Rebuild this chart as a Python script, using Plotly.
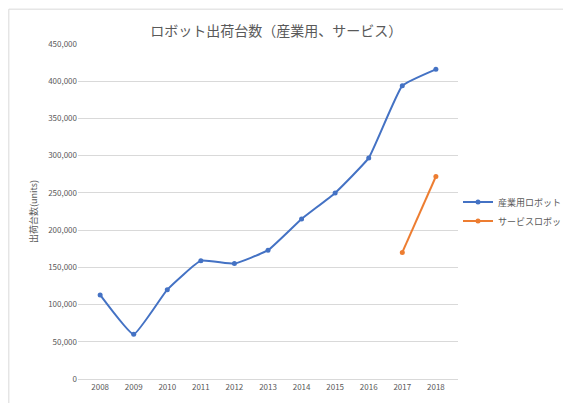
import plotly.graph_objects as go

years = ["2008", "2009", "2010", "2011", "2012", "2013", "2014", "2015", "2016", "2017", "2018"]
industrial = [113000, 60000, 120000, 159000, 155000, 173000, 215000, 250000, 297000, 394000, 416000]
service_years = ["2017", "2018"]
service = [170000, 272000]

fig = go.Figure()
fig.add_trace(go.Scatter(x=years, y=industrial, name="産業用ロボット", mode="lines+markers",
                         line=dict(color="#4472C4", width=2, shape="spline", smoothing=0.35),
                         marker=dict(size=5, color="#4472C4")))
fig.add_trace(go.Scatter(x=service_years, y=service, name="サービスロボット", mode="lines+markers",
                         line=dict(color="#ED7D31", width=2),
                         marker=dict(size=5, color="#ED7D31")))

font = "Noto Sans CJK JP"
fig.update_layout(
    width=571, height=403,
    paper_bgcolor="white", plot_bgcolor="white",
    margin=dict(l=70, r=121, t=36, b=32, autoexpand=False),
    title=dict(text="ロボット出荷台数（産業用、サービス）", x=0.47, y=0.955, xanchor="center",
               font=dict(family=font, size=14, color="#595959")),
    font=dict(family=font, size=9, color="#595959"),
    xaxis=dict(type="category", showgrid=False, showline=True, linecolor="#D9D9D9",
               tickfont=dict(size=8), ticks=""),
    yaxis=dict(range=[0, 450000], dtick=50000, tickformat=",", gridcolor="#D9D9D9",
               zeroline=False, tickfont=dict(size=8),
               title=dict(text="出荷台数(units)", font=dict(size=9), standoff=8)),
    legend=dict(x=1.0, y=0.5, xanchor="left", yanchor="middle", font=dict(size=9)),
    shapes=[dict(type="rect", xref="paper", yref="paper", x0=-0.182, y0=-0.092, x1=1.315, y1=1.104,
                 line=dict(color="#D9D9D9", width=1))],
)
fig.write_html("out.html")
